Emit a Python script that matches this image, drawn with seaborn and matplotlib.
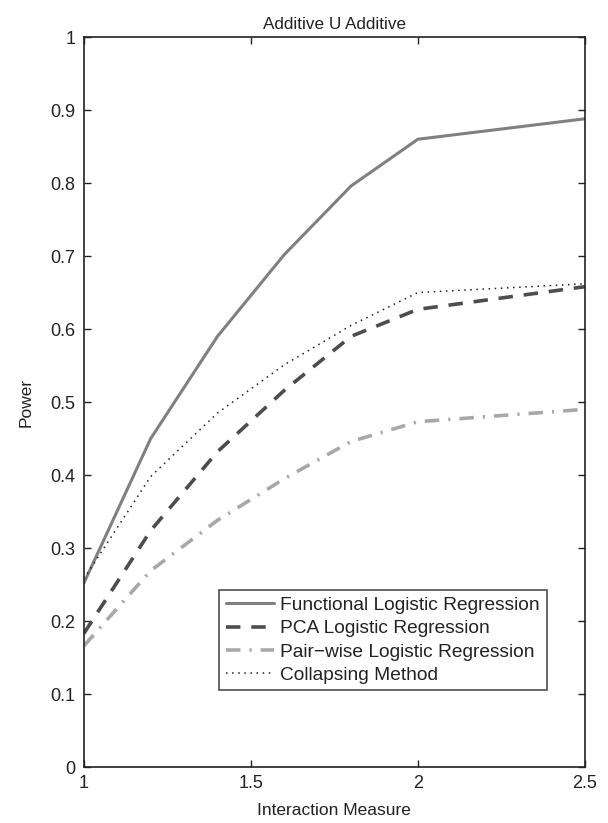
import matplotlib
matplotlib.use("Agg")
import matplotlib.pyplot as plt
import seaborn as sns
import pandas as pd

interaction = [1.0, 1.2, 1.4, 1.6, 1.8, 2.0, 2.5]
functional = [0.252, 0.450, 0.590, 0.702, 0.796, 0.860, 0.888]
pca = [0.183, 0.324, 0.432, 0.516, 0.590, 0.627, 0.658]
pairwise = [0.166, 0.269, 0.338, 0.395, 0.446, 0.473, 0.490]
collapsing = [0.258, 0.398, 0.485, 0.551, 0.605, 0.650, 0.662]

series_names = ["Functional Logistic Regression", "PCA Logistic Regression",
                "Pair\u2212wise Logistic Regression", "Collapsing Method"]
series_values = [functional, pca, pairwise, collapsing]

sns.set_theme(style="white")
plt.rcParams['font.family'] = ['Liberation Sans', 'DejaVu Sans']

fig = plt.figure(figsize=(6.08, 8.23), dpi=100)
ax = fig.add_axes([0.138, 0.068, 0.824, 0.887])

styles = [
    dict(color="#808080", lw=2.2, ls="-"),
    dict(color="#4d4d4d", lw=2.6, ls=(0, (4, 3))),
    dict(color="#a8a8a8", lw=2.6, ls=(0, (4, 2.5, 0.6, 2.5))),
    dict(color="#202020", lw=1.1, ls=(0, (1, 3))),
]

for name, vals, st in zip(series_names, series_values, styles):
    df = pd.DataFrame({"x": interaction, "y": vals})
    sns.lineplot(data=df, x="x", y="y", ax=ax, color=st["color"],
                 linewidth=st["lw"], linestyle=st["ls"], label=name,
                 errorbar=None)

ax.set_xlim(1, 2.5)
ax.set_ylim(0, 1)
ax.set_xticks([1, 1.5, 2, 2.5])
ax.set_xticklabels(["1", "1.5", "2", "2.5"])
ax.set_yticks([i / 10 for i in range(11)])
ax.set_yticklabels(["0", "0.1", "0.2", "0.3", "0.4", "0.5", "0.6", "0.7", "0.8", "0.9", "1"])
ax.tick_params(direction="in", length=5, width=1, top=True, right=True,
               bottom=True, left=True, labelsize=13, colors="#222222",
               pad=6)
for sp in ax.spines.values():
    sp.set_color("#222222")
    sp.set_linewidth(1.2)

ax.set_title("Additive U Additive", fontsize=12.3, color="#222222", pad=6)
ax.set_xlabel("Interaction Measure", fontsize=12.5, color="#222222", labelpad=8)
ax.set_ylabel("Power", fontsize=12.5, color="#222222", labelpad=12)

leg = ax.legend(loc="lower right", bbox_to_anchor=(0.924, 0.105),
                fontsize=13.8, frameon=True, fancybox=False,
                handlelength=2.5, handletextpad=0.35, borderpad=0.35,
                labelspacing=0.3, borderaxespad=0)
leg.get_frame().set_edgecolor("#222222")
leg.get_frame().set_linewidth(1.2)
for t in leg.get_texts():
    t.set_color("#222222")

fig.savefig("out.png", dpi=100)
